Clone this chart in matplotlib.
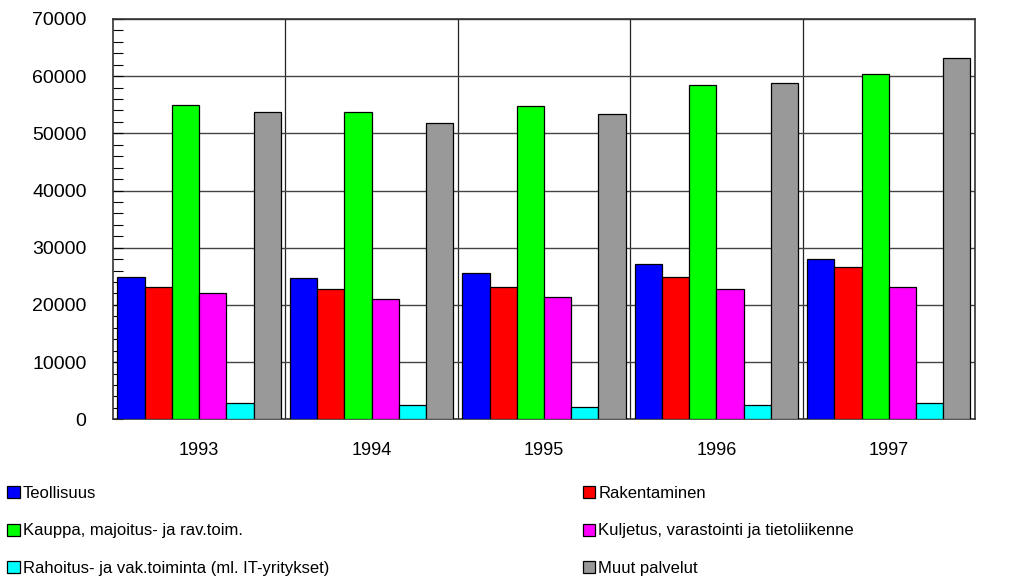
import numpy as np
import matplotlib.pyplot as plt
from matplotlib.ticker import MultipleLocator, FixedLocator

plt.rcParams['font.family'] = ['Liberation Sans', 'DejaVu Sans']

years = ['1993', '1994', '1995', '1996', '1997']
series = ['Teollisuus', 'Rakentaminen', 'Kauppa, majoitus- ja rav.toim.',
          'Kuljetus, varastointi ja tietoliikenne',
          'Rahoitus- ja vak.toiminta (ml. IT-yritykset)', 'Muut palvelut']
teollisuus = [24900, 24700, 25500, 27100, 28100]
rakentaminen = [23200, 22700, 23200, 24900, 26600]
kauppa = [55000, 53700, 54800, 58400, 60400]
kuljetus = [22000, 21100, 21400, 22800, 23200]
rahoitus = [2800, 2450, 2100, 2450, 2800]
muut = [53700, 51800, 53400, 58750, 63100]
colors = ['#0000ff', '#ff0000', '#00ff00', '#ff00ff', '#00ffff', '#999999']

values = [teollisuus, rakentaminen, kauppa, kuljetus, rahoitus, muut]

fig = plt.figure(figsize=(10.29, 5.86), dpi=100)
ax = fig.add_axes([0.1098, 0.2845, 0.8377, 0.6831])

x = np.arange(len(years))
w = 0.158
bars = []
for i, (vals, c) in enumerate(zip(values, colors)):
    b = ax.bar(x + (i - 2.5) * w, vals, w, color=c, edgecolor='black',
               linewidth=0.9, zorder=3, label=series[i])
    bars.append(b)

ax.set_xlim(-0.5, 4.5)
ax.set_ylim(0, 70000)
ax.set_xticks(x)
ax.set_xticklabels(years, fontsize=13)
ax.xaxis.set_minor_locator(FixedLocator(np.arange(0.5, 4.5, 1)))
ax.tick_params(axis='x', which='both', length=0, pad=16)
ax.yaxis.set_major_locator(MultipleLocator(10000))
ax.yaxis.set_minor_locator(MultipleLocator(2000))
ax.tick_params(axis='y', which='both', direction='in', length=7, width=0.8, pad=19, labelsize=14)
ax.grid(axis='y', which='major', color='#444444', linewidth=1.0, zorder=0)
ax.grid(axis='x', which='minor', color='#222222', linewidth=0.9, zorder=0)
for s in ax.spines.values():
    s.set_linewidth(1.2)
    s.set_color('#333333')

# legend columns are filled top to bottom
order = [0, 2, 4, 1, 3, 5]
leg = fig.legend([bars[i] for i in order], [series[i] for i in order],
                 ncol=2, loc='lower left', bbox_to_anchor=(-0.0077, -0.0085),
                 frameon=False, fontsize=12, handlelength=0.75, handleheight=0.75,
                 handletextpad=0.2, labelspacing=1.35, columnspacing=15.2)

fig.savefig('out.png', dpi=100)
